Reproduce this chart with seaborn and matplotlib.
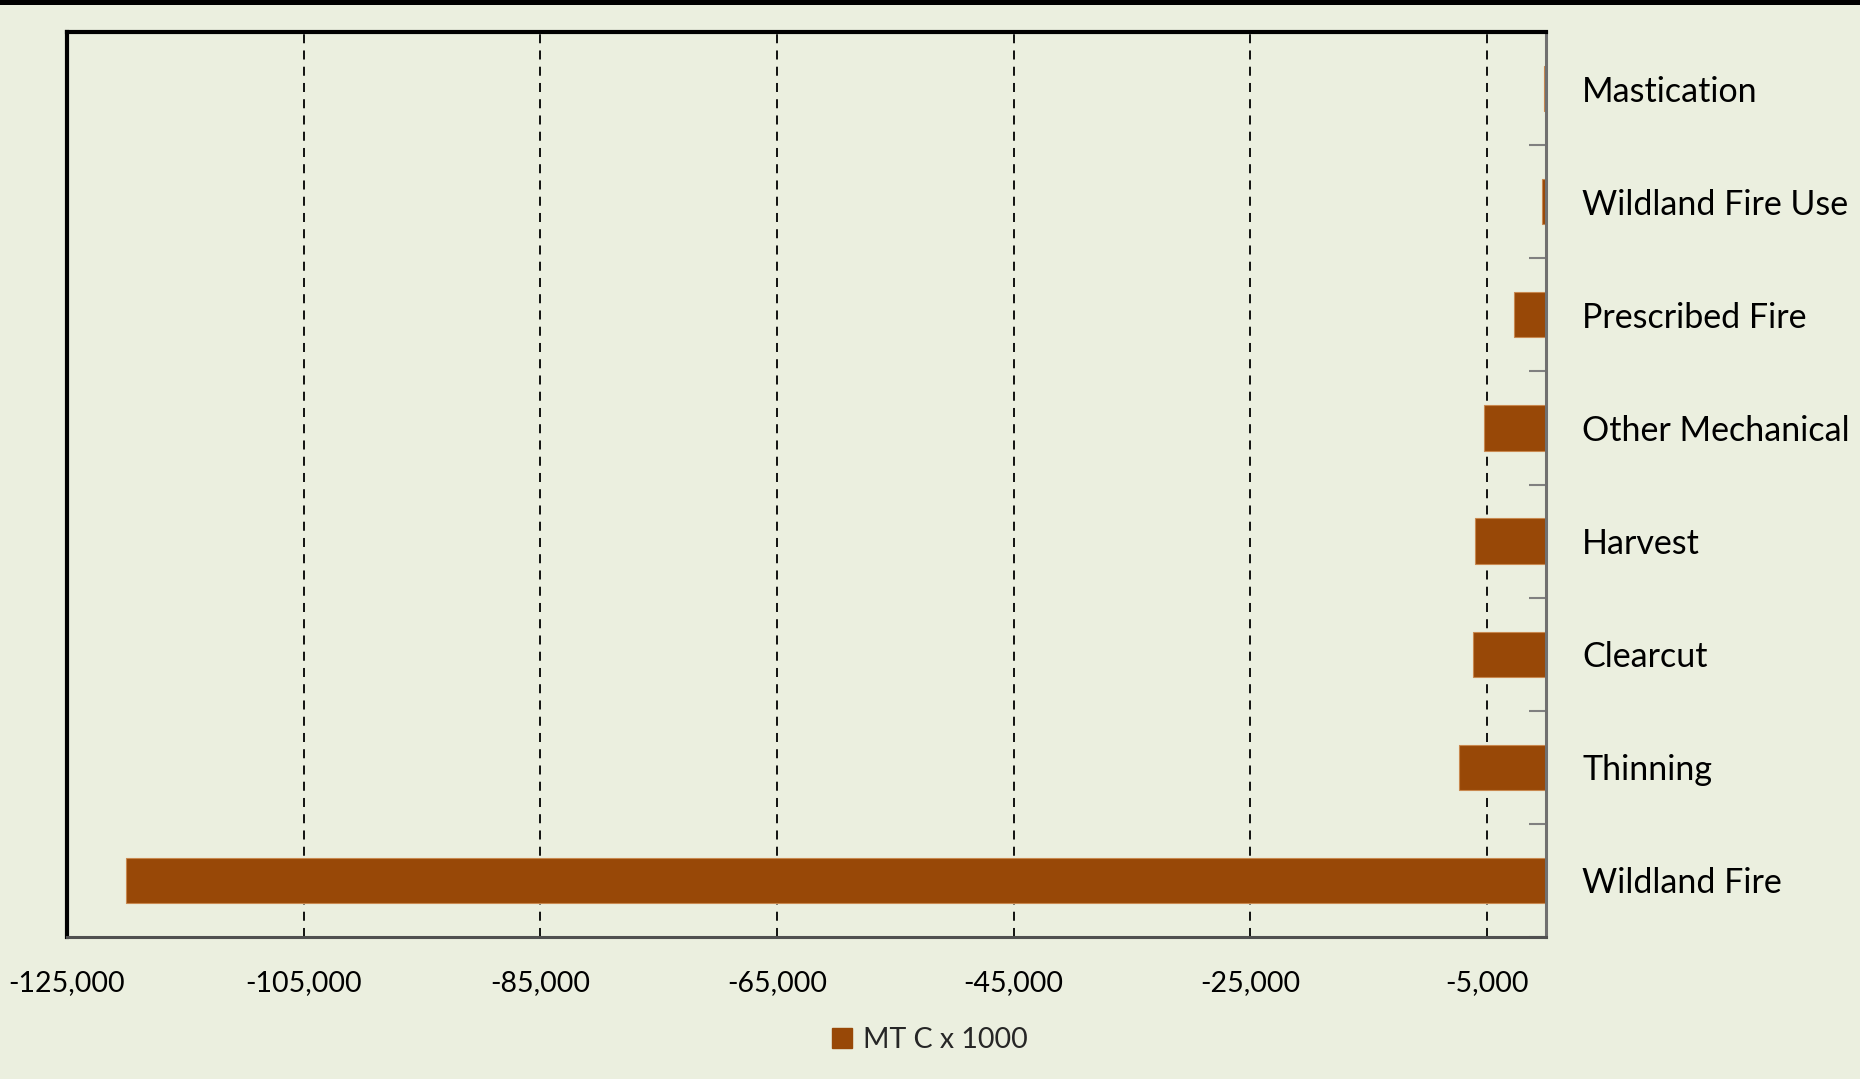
import matplotlib
matplotlib.use("Agg")
import matplotlib.pyplot as plt
import matplotlib.patches as mpatches
from matplotlib.ticker import FixedLocator
import seaborn as sns
import pandas as pd

categories = ["Mastication", "Wildland Fire Use", "Prescribed Fire", "Other Mechanical",
              "Harvest", "Clearcut", "Thinning", "Wildland Fire"]
values = [-200, -310, -2700, -5200, -6000, -6150, -7350, -120000]
x_ticks = [-125000, -105000, -85000, -65000, -45000, -25000, -5000]
x_tick_labels = ["-125,000", "-105,000", "-85,000", "-65,000", "-45,000", "-25,000", "-5,000"]
series_name = "MT C x 1000"

BG = "#EBEFDF"
BAR = "#984807"

sns.set_theme(style="white")
plt.rcParams["font.family"] = ["Lato", "DejaVu Sans"]

df = pd.DataFrame({"category": categories, "value": values})

fig = plt.figure(figsize=(18.6, 10.79), dpi=100, facecolor=BG)
ax = fig.add_axes([67/1860, 1 - 937/1079, (1546-67)/1860, (937-32)/1079])
ax.set_facecolor(BG)

sns.barplot(data=df, x="value", y="category", orient="h", color=BAR,
            width=0.4, edgecolor="#C8884F", linewidth=0.8, saturation=1, ax=ax)

ax.set_xlim(-125000, 0)
ax.set_ylim(len(categories) - 0.5, -0.5)
ax.set_xlabel("")
ax.set_ylabel("")

# x axis
ax.set_xticks(x_ticks)
ax.set_xticklabels(x_tick_labels, fontsize=20.5)
ax.tick_params(axis="x", direction="out", length=10, width=1.5, color="#808080",
               pad=14, labelcolor="black")
for xv in x_ticks[1:]:
    ax.axvline(xv, color="black", linestyle=(0, (5, 4)), linewidth=1.3, zorder=0)

# y axis on right
ax.yaxis.tick_right()
ax.set_yticks(range(len(categories)))
ax.set_yticklabels(categories, fontsize=24.5)
ax.tick_params(axis="y", which="major", length=0, pad=26, labelcolor="black")
ax.yaxis.set_minor_locator(FixedLocator([i - 0.5 for i in range(len(categories) + 1)]))
ax.tick_params(axis="y", which="minor", direction="in", length=12, width=1.5,
               color="#808080", right=True, left=False)

# spines
ax.spines["left"].set_color("black")
ax.spines["left"].set_linewidth(3)
ax.spines["top"].set_color("black")
ax.spines["top"].set_linewidth(3)
ax.spines["right"].set_color("#707070")
ax.spines["right"].set_linewidth(2.2)
ax.spines["bottom"].set_color("#505050")
ax.spines["bottom"].set_linewidth(2.2)

# legend
handle = mpatches.Patch(color=BAR, label=series_name)
fig.legend(handles=[handle], loc="center", bbox_to_anchor=(0.5, 1 - 1040/1079),
           frameon=False, fontsize=20.5, handlelength=0.7, handleheight=0.7,
           handletextpad=0.4)

# black band at top
fig.patches.append(mpatches.Rectangle((0, 1 - 5/1079), 1, 5/1079, transform=fig.transFigure,
                                      facecolor="black", edgecolor="none", zorder=10))

fig.savefig("out.png", dpi=100, facecolor=BG)
